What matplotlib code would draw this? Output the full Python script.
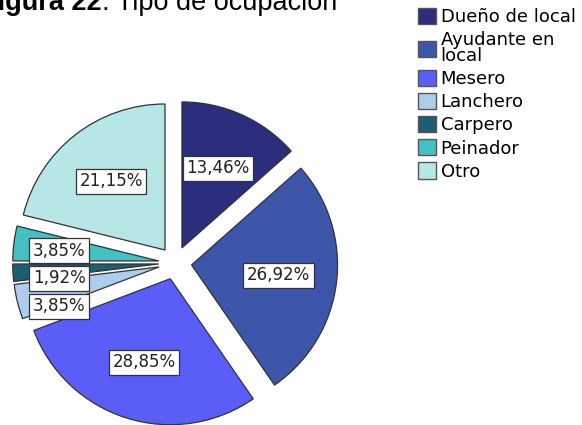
import matplotlib.pyplot as plt

categories = ['Dueño de local', 'Ayudante en\nlocal', 'Mesero', 'Lanchero',
              'Carpero', 'Peinador', 'Otro']
values = [13.46, 26.92, 28.85, 3.85, 1.92, 3.85, 21.15]
colors = ['#2b2e7c', '#3e56a9', '#5a5ef6', '#aecdee', '#1f5e70', '#44c0c2', '#b6e6e6']

W, H = 582, 425
fig = plt.figure(figsize=(W / 100, H / 100), dpi=100)
# pie centre ~(175, 263) px, radius ~146 px
ax = fig.add_axes([0.0, -0.031, 0.602, 0.8245])

wedges, texts, autotexts = ax.pie(
    values, colors=colors, startangle=90, counterclock=False,
    explode=[0.113] * len(values), radius=1.0,
    wedgeprops=dict(edgecolor='#333333', linewidth=0.9),
    autopct=lambda p: f'{p:.2f}%'.replace('.', ','), pctdistance=0.6,
    textprops=dict(fontsize=12, family='DejaVu Sans', color='#222222'))
ax.set_xlim(-1.2, 1.2)
ax.set_ylim(-1.2, 1.2)
ax.set_aspect('equal')
for w in wedges:
    w.set_clip_on(False)

for t in autotexts:
    t.set_bbox(dict(facecolor='white', edgecolor='#333333', linewidth=0.9, pad=2.5))

# the three thin slices get their labels stacked on the left
small_y = [-0.295, -0.103, 0.082]
for i, y in zip([3, 4, 5], small_y):
    autotexts[i].set_position((-0.795, y))

title = fig.text(-19 / W, 1 - 10 / H, 'Figura 22', fontsize=19.5,
                 family='Liberation Sans', fontweight='bold',
                 va='baseline', ha='left')
fig.canvas.draw()
bb = title.get_window_extent().transformed(fig.transFigure.inverted())
fig.text(bb.x1, 1 - 10 / H, ': Tipo de ocupación', fontsize=19.5,
         family='Liberation Sans', va='baseline', ha='left')

leg = fig.legend(wedges, categories, loc='upper left',
                 bbox_to_anchor=(418 / W, 1 - 8 / H),
                 frameon=False, prop=dict(family='DejaVu Sans', size=13),
                 handlelength=1.0, handleheight=1.0, handletextpad=0.25,
                 labelspacing=0.27, borderpad=0.0, borderaxespad=0.0)
for h in leg.legend_handles:
    h.set_edgecolor('#555555')
    h.set_linewidth(1.0)
for t in leg.get_texts():
    t.set_linespacing(0.85)

fig.savefig('out.png', dpi=100)
